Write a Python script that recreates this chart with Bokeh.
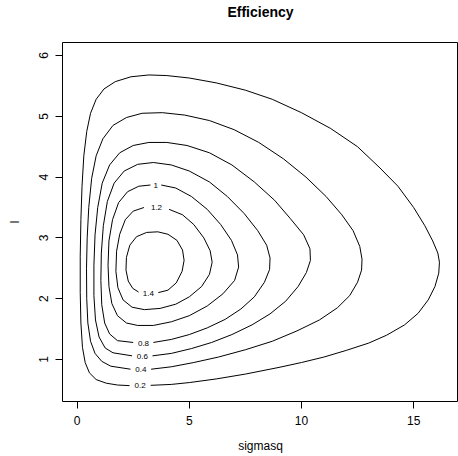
from bokeh.plotting import figure
from bokeh.models import ColumnDataSource, FixedTicker, LinearAxis
from bokeh.core.properties import value
from bokeh.embed import file_html
from bokeh.resources import INLINE

# ---- data ----
x_ticks = [0, 5, 10, 15]
y_ticks = [1, 2, 3, 4, 5, 6]

levels = ["0.2", "0.4", "0.6", "0.8", "1", "1.2", "1.4"]

c02_x = [3.28, 4.2, 5.0, 6.2, 7.5, 9.0, 10.0, 11.0, 12.0, 13.0, 13.8, 14.6, 15.2, 15.65, 15.95, 16.12, 16.15, 16.08, 15.85, 15.5, 15.0, 14.3, 13.5, 12.5, 11.3, 10.0, 8.7, 7.5, 6.2, 5.0, 4.0, 3.2, 2.4, 1.7, 1.2, 0.85, 0.6, 0.43, 0.3, 0.22, 0.17, 0.14, 0.14, 0.17, 0.24, 0.36, 0.55, 0.85, 1.3, 1.8, 2.34]
c02_y = [0.575, 0.59, 0.62, 0.68, 0.76, 0.87, 0.95, 1.04, 1.15, 1.27, 1.4, 1.57, 1.76, 1.98, 2.2, 2.42, 2.6, 2.75, 2.95, 3.2, 3.5, 3.85, 4.15, 4.5, 4.8, 5.06, 5.28, 5.43, 5.55, 5.63, 5.67, 5.68, 5.65, 5.57, 5.45, 5.28, 5.05, 4.75, 4.35, 3.85, 3.3, 2.7, 2.1, 1.6, 1.2, 0.95, 0.78, 0.67, 0.61, 0.58, 0.57]

c04_x = [3.3, 4.2, 5.2, 6.3, 7.5, 8.7, 9.8, 10.8, 11.6, 12.15, 12.5, 12.68, 12.7, 12.6, 12.3, 11.8, 11.1, 10.2, 9.2, 8.1, 7.0, 5.9, 4.8, 3.8, 2.9, 2.2, 1.6, 1.15, 0.85, 0.65, 0.52, 0.45, 0.42, 0.43, 0.48, 0.6, 0.8, 1.1, 1.5, 2.38]
c04_y = [0.84, 0.88, 0.95, 1.04, 1.16, 1.3, 1.47, 1.65, 1.85, 2.05, 2.27, 2.47, 2.65, 2.86, 3.12, 3.38, 3.68, 4.0, 4.3, 4.57, 4.78, 4.93, 5.02, 5.06, 5.05, 4.98, 4.85, 4.63, 4.35, 3.98, 3.5, 3.0, 2.5, 2.0, 1.6, 1.3, 1.1, 0.97, 0.89, 0.84]

c06_x = [3.36, 4.2, 5.1, 6.0, 6.9, 7.8, 8.6, 9.3, 9.85, 10.22, 10.4, 10.38, 10.1, 9.5, 8.8, 7.9, 6.9, 5.9, 4.9, 4.0, 3.2, 2.5, 1.9, 1.45, 1.12, 0.92, 0.8, 0.75, 0.75, 0.82, 0.98, 1.25, 1.6, 2.45]
c06_y = [1.06, 1.1, 1.18, 1.28, 1.41, 1.57, 1.75, 1.96, 2.2, 2.43, 2.63, 2.82, 3.05, 3.32, 3.62, 3.92, 4.2, 4.4, 4.52, 4.57, 4.57, 4.52, 4.4, 4.2, 3.9, 3.5, 3.05, 2.55, 2.05, 1.65, 1.37, 1.19, 1.11, 1.06]

c08_x = [3.4, 4.2, 5.0, 5.8, 6.6, 7.3, 7.9, 8.35, 8.58, 8.6, 8.45, 8.05, 7.45, 6.7, 5.9, 5.0, 4.2, 3.4, 2.7, 2.1, 1.65, 1.35, 1.17, 1.08, 1.06, 1.1, 1.23, 1.45, 1.8, 2.5]
c08_y = [1.28, 1.33, 1.41, 1.52, 1.66, 1.83, 2.03, 2.27, 2.48, 2.67, 2.88, 3.12, 3.4, 3.68, 3.92, 4.1, 4.2, 4.24, 4.21, 4.1, 3.9, 3.6, 3.2, 2.75, 2.3, 1.9, 1.6, 1.42, 1.31, 1.28]

c10_x = [3.75, 4.4, 5.1, 5.8, 6.4, 6.88, 7.15, 7.2, 7.02, 6.5, 5.8, 5.0, 4.2, 3.4, 2.7, 2.2, 1.8, 1.55, 1.42, 1.38, 1.42, 1.58, 1.85, 2.25, 2.75, 3.27]
c10_y = [3.87, 3.82, 3.68, 3.47, 3.22, 2.96, 2.72, 2.52, 2.3, 2.08, 1.88, 1.72, 1.62, 1.56, 1.56, 1.6, 1.72, 1.92, 2.2, 2.55, 2.95, 3.3, 3.58, 3.76, 3.85, 3.87]

c12_x = [4.1, 4.7, 5.2, 5.65, 5.93, 6.02, 5.9, 5.55, 5.0, 4.4, 3.7, 3.0, 2.45, 2.05, 1.82, 1.73, 1.76, 1.9, 2.15, 2.5, 2.98]
c12_y = [3.47, 3.38, 3.22, 3.0, 2.79, 2.6, 2.4, 2.2, 2.03, 1.91, 1.84, 1.82, 1.86, 1.98, 2.18, 2.45, 2.78, 3.06, 3.3, 3.44, 3.5]

c14_x = [3.62, 4.05, 4.42, 4.68, 4.77, 4.7, 4.45, 4.05, 3.6, 3.1, 2.65, 2.35, 2.2, 2.18, 2.28, 2.48, 2.74]
c14_y = [2.1, 2.14, 2.26, 2.45, 2.63, 2.8, 2.96, 3.06, 3.1, 3.09, 3.02, 2.88, 2.68, 2.47, 2.29, 2.17, 2.11]

label_x = [2.81, 2.84, 2.91, 2.96, 3.51, 3.54, 3.18]
label_y = [0.57, 0.83, 1.05, 1.27, 3.87, 3.50, 2.09]

X_END = 17.0

# ---- figure ----
FONT = "Liberation Sans"
p = figure(width=458, height=456, x_range=(-0.65, X_END), y_range=(0.309, 6.214),
           output_backend="svg", toolbar_location=None, title="Efficiency",
           min_border_left=62, min_border_right=0, min_border_top=42, min_border_bottom=55)
p.background_fill_color = "white"
p.border_fill_color = "white"
p.outline_line_color = "black"
p.outline_line_width = 1
p.xgrid.visible = False
p.ygrid.visible = False

p.title.text_font = FONT
p.title.text_font_size = "14px"
p.title.text_font_style = "bold"
p.title.align = "center"
p.title.text_color = "black"
p.title.standoff = 1

xax = p.below[0]
yax = p.left[0]

for ax, ticks, lab in ((xax, x_ticks, "sigmasq"), (yax, y_ticks, "l")):
    ax.ticker = FixedTicker(ticks=ticks)
    ax.minor_tick_line_color = None
    ax.major_tick_in = 0
    ax.major_tick_out = 7
    ax.major_tick_line_color = "black"
    ax.axis_line_color = None
    ax.major_label_text_font = FONT
    ax.major_label_text_font_size = "12px"
    ax.major_label_text_color = "black"
    ax.axis_label = lab
    ax.axis_label_text_font = FONT
    ax.axis_label_text_font_size = "12px"
    ax.axis_label_text_font_style = "normal"
    ax.axis_label_text_color = "black"

xax.major_label_standoff = 7
xax.axis_label_standoff = 11
yax.major_label_orientation = "vertical"
yax.major_label_standoff = 7
yax.axis_label_standoff = 15

# white, label-less spacer axis between the frame and the title;
# its single tick sits on the right edge of the frame, outside the canvas
spacer = LinearAxis(ticker=FixedTicker(ticks=[X_END]), axis_line_color=None,
                    major_tick_line_color="white", minor_tick_line_color=None,
                    major_tick_in=0, major_tick_out=22, minor_tick_out=0,
                    major_label_text_font_size="0px", major_label_overrides={X_END: ""},
                    major_label_standoff=0, axis_label_standoff=0)
p.add_layout(spacer, "above")

src = ColumnDataSource(dict(
    xs=[c02_x, c04_x, c06_x, c08_x, c10_x, c12_x, c14_x],
    ys=[c02_y, c04_y, c06_y, c08_y, c10_y, c12_y, c14_y],
))
p.multi_line(xs="xs", ys="ys", source=src, line_color="black", line_width=1)

lsrc = ColumnDataSource(dict(x=label_x, y=label_y, t=levels))
p.text(x="x", y="y", text="t", source=lsrc, text_font=value(FONT), text_font_size="8px",
       text_align="center", text_baseline="middle", text_color="black")

open("out.html", "w").write(file_html(p, INLINE))
